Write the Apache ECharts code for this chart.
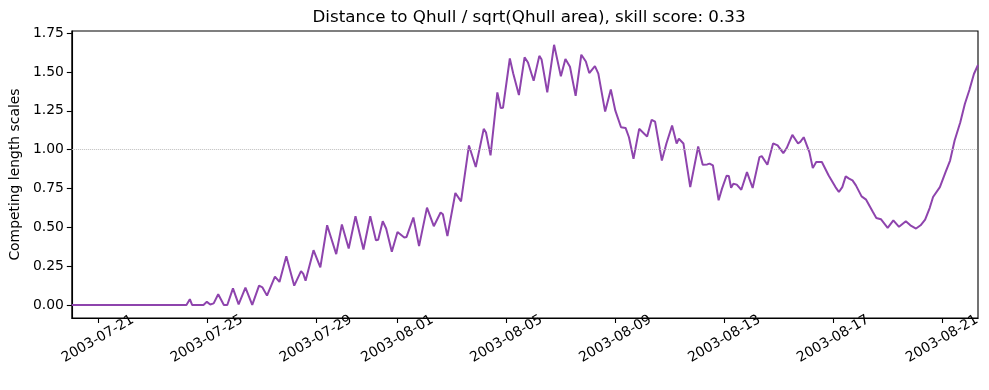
<!DOCTYPE html>
<html>
<head>
<meta charset="utf-8">
<script src="https://cdn.jsdelivr.net/npm/echarts@6/dist/echarts.min.js"></script>
<style>
html,body{margin:0;padding:0;background:#fff;}
#chart{width:989px;height:390px;}
</style>
</head>
<body>
<div id="chart"></div>
<script>
const titleText = 'Distance to Qhull / sqrt(Qhull area), skill score: 0.33';
const yAxisTitle = 'Competing length scales';
const xTickLabels = ['2003-07-21','2003-07-25','2003-07-29','2003-08-01','2003-08-05','2003-08-09','2003-08-13','2003-08-17','2003-08-21'];
const yTickValues = [0, 0.25, 0.5, 0.75, 1.0, 1.25, 1.5, 1.75];
const xRange = ['2003-07-20 01:00', '2003-08-22 07:36'];
const yRange = [-0.084, 1.764];
const refLevel = 1.0;

const times = [
'2003-07-20 01:00','2003-07-24 06:00','2003-07-24 09:00','2003-07-24 11:00','2003-07-24 21:00','2003-07-25 00:00',
'2003-07-25 03:00','2003-07-25 06:00','2003-07-25 10:00','2003-07-25 15:00','2003-07-25 18:00','2003-07-25 23:00',
'2003-07-26 04:00','2003-07-26 10:00','2003-07-26 16:00','2003-07-26 22:00','2003-07-27 01:00','2003-07-27 05:00',
'2003-07-27 12:00','2003-07-27 16:00','2003-07-27 22:00','2003-07-28 05:00','2003-07-28 11:00','2003-07-28 13:00',
'2003-07-28 15:00','2003-07-28 22:00','2003-07-29 04:00','2003-07-29 10:00','2003-07-29 18:00','2003-07-29 23:00',
'2003-07-30 05:00','2003-07-30 11:00','2003-07-30 18:00','2003-07-31 00:00','2003-07-31 05:00','2003-07-31 07:00',
'2003-07-31 11:00','2003-07-31 14:00','2003-07-31 19:00','2003-08-01 00:00','2003-08-01 06:00','2003-08-01 08:00',
'2003-08-01 14:00','2003-08-01 19:00','2003-08-02 02:00','2003-08-02 08:00','2003-08-02 14:00','2003-08-02 16:00',
'2003-08-02 20:00','2003-08-02 21:00','2003-08-03 03:00','2003-08-03 08:00','2003-08-03 09:00','2003-08-03 15:00',
'2003-08-03 21:00','2003-08-04 04:00','2003-08-04 06:00','2003-08-04 10:00','2003-08-04 16:00','2003-08-04 19:00',
'2003-08-04 21:00','2003-08-05 03:00','2003-08-05 06:00','2003-08-05 07:00','2003-08-05 11:00','2003-08-05 16:00',
'2003-08-05 19:00','2003-08-06 00:00','2003-08-06 05:00','2003-08-06 07:00','2003-08-06 12:00','2003-08-06 18:00',
'2003-08-07 00:00','2003-08-07 04:00','2003-08-07 08:00','2003-08-07 13:00','2003-08-07 18:00','2003-08-07 22:00',
'2003-08-08 01:00','2003-08-08 06:00','2003-08-08 09:00','2003-08-08 15:00','2003-08-08 20:00','2003-08-09 00:00',
'2003-08-09 05:00','2003-08-09 09:00','2003-08-09 12:00','2003-08-09 16:00','2003-08-09 21:00','2003-08-10 01:00',
'2003-08-10 04:00','2003-08-10 08:00','2003-08-10 11:00','2003-08-10 17:00','2003-08-10 21:00','2003-08-10 22:00',
'2003-08-11 02:00','2003-08-11 06:00','2003-08-11 08:00','2003-08-11 12:00','2003-08-11 18:00','2003-08-12 01:00',
'2003-08-12 05:00','2003-08-12 09:00','2003-08-12 11:00','2003-08-12 14:00','2003-08-12 19:00','2003-08-12 22:00',
'2003-08-13 02:00','2003-08-13 04:00','2003-08-13 06:00','2003-08-13 08:00','2003-08-13 11:00','2003-08-13 12:00',
'2003-08-13 15:00','2003-08-13 20:00','2003-08-14 01:00','2003-08-14 07:00','2003-08-14 09:00','2003-08-14 14:00',
'2003-08-14 19:00','2003-08-14 23:00','2003-08-15 04:00','2003-08-15 07:00','2003-08-15 12:00','2003-08-15 17:00',
'2003-08-15 19:00','2003-08-15 22:00','2003-08-16 03:00','2003-08-16 06:00','2003-08-16 09:00','2003-08-16 14:00',
'2003-08-16 20:00','2003-08-17 02:00','2003-08-17 05:00','2003-08-17 08:00','2003-08-17 11:00','2003-08-17 14:00',
'2003-08-17 17:00','2003-08-17 20:00','2003-08-18 01:00','2003-08-18 05:00','2003-08-18 11:00','2003-08-18 14:00',
'2003-08-18 18:00','2003-08-19 00:00','2003-08-19 05:00','2003-08-19 10:00','2003-08-19 16:00','2003-08-19 20:00',
'2003-08-20 01:00','2003-08-20 05:00','2003-08-20 09:00','2003-08-20 13:00','2003-08-20 16:00','2003-08-20 22:00',
'2003-08-21 03:00','2003-08-21 07:00','2003-08-21 11:00','2003-08-21 16:00','2003-08-21 20:00','2003-08-22 00:00',
'2003-08-22 04:00','2003-08-22 07:36'
];
const values = [
0, 0, 0.037, 0, 0, 0.02,
0.003, 0.01, 0.069, 0, 0, 0.107,
0.004, 0.111, 0, 0.124, 0.113, 0.06,
0.182, 0.148, 0.314, 0.124, 0.218, 0.2,
0.156, 0.353, 0.242, 0.513, 0.327, 0.518,
0.364, 0.571, 0.357, 0.571, 0.417, 0.42,
0.539, 0.492, 0.342, 0.47, 0.434, 0.438,
0.563, 0.379, 0.627, 0.507, 0.595, 0.584,
0.443, 0.445, 0.721, 0.667, 0.673, 1.027,
0.888, 1.134, 1.11, 0.963, 1.369, 1.268,
1.27, 1.587, 1.49, 1.5, 1.352, 1.594,
1.561, 1.444, 1.604, 1.58, 1.369, 1.675,
1.472, 1.583, 1.534, 1.346, 1.611, 1.568,
1.493, 1.538, 1.49, 1.245, 1.388, 1.251,
1.144, 1.14, 1.08, 0.941, 1.134, 1.106,
1.084, 1.192, 1.18, 0.93, 1.04, 1.05,
1.155, 1.04, 1.07, 1.04, 0.759, 1.02,
0.903, 0.905, 0.91, 0.898, 0.674, 0.749,
0.832, 0.83, 0.755, 0.781, 0.775, 0.78,
0.742, 0.855, 0.753, 0.952, 0.958, 0.903,
1.04, 1.027, 0.978, 1.01, 1.095, 1.04,
1.05, 1.08, 0.984, 0.881, 0.92, 0.92,
0.834, 0.759, 0.727, 0.759, 0.828, 0.813,
0.802, 0.77, 0.699, 0.678, 0.599, 0.56,
0.552, 0.496, 0.545, 0.503, 0.539, 0.513,
0.492, 0.513, 0.55, 0.624, 0.695, 0.759,
0.855, 0.93, 1.059, 1.176, 1.294, 1.384,
1.487, 1.545
];

function parseT(s) {
  const parts = s.split(' ');
  const d = parts[0].split('-').map(Number);
  const t = (parts[1] || '00:00').split(':').map(Number);
  return Date.UTC(d[0], d[1] - 1, d[2], t[0], t[1]);
}

const seriesData = times.map((t, i) => [parseT(t), values[i]]);
const xTickValues = xTickLabels.map(parseT);
const labelMap = {};
xTickLabels.forEach((l, i) => { labelMap[xTickValues[i]] = l; });

const FONT = 'DejaVu Sans';
const chart = echarts.init(document.getElementById('chart'), null, {renderer: 'canvas'});
chart.setOption({
  animation: false,
  backgroundColor: '#ffffff',
  title: {
    text: titleText,
    left: 524, top: 4, textAlign: 'center',
    textStyle: {fontFamily: FONT, fontSize: 16.7, fontWeight: 'normal', color: '#000'}
  },
  grid: {
    left: 71, top: 31, width: 907, height: 287,
    show: true, borderColor: '#000', borderWidth: 1.1, backgroundColor: 'transparent'
  },
  xAxis: {
    type: 'value',
    min: parseT(xRange[0]), max: parseT(xRange[1]),
    axisLine: {show: true, onZero: false, lineStyle: {color: '#000', width: 1.1}},
    axisTick: {show: true, customValues: xTickValues, length: 5, lineStyle: {color: '#000', width: 1.1}},
    axisLabel: {
      customValues: xTickValues,
      rotate: 30, align: 'center', verticalAlign: 'middle', margin: 21,
      fontFamily: FONT, fontSize: 13.9, color: '#000',
      formatter: function (v) { return labelMap[v] || ''; }
    },
    splitLine: {show: false}
  },
  yAxis: {
    type: 'value',
    min: yRange[0], max: yRange[1],
    name: yAxisTitle, nameLocation: 'middle', nameGap: 47,
    nameTextStyle: {fontFamily: FONT, fontSize: 13.9, color: '#000'},
    axisLine: {show: true, lineStyle: {color: '#000', width: 1.1}},
    axisTick: {show: true, customValues: yTickValues, length: 5, lineStyle: {color: '#000', width: 1.1}},
    axisLabel: {
      customValues: yTickValues, margin: 8,
      fontFamily: FONT, fontSize: 13.9, color: '#000',
      formatter: function (v) { return Number(v).toFixed(2); }
    },
    splitLine: {show: false}
  },
  series: [{
    type: 'line',
    data: seriesData,
    showSymbol: false,
    smooth: false,
    lineStyle: {color: '#8e44ad', width: 2},
    itemStyle: {color: '#8e44ad'},
    markLine: {
      silent: true, symbol: 'none', label: {show: false},
      lineStyle: {color: '#bdbdbd', type: 'dotted', width: 1},
      data: [{yAxis: refLevel}]
    }
  }]
});
</script>
</body>
</html>
